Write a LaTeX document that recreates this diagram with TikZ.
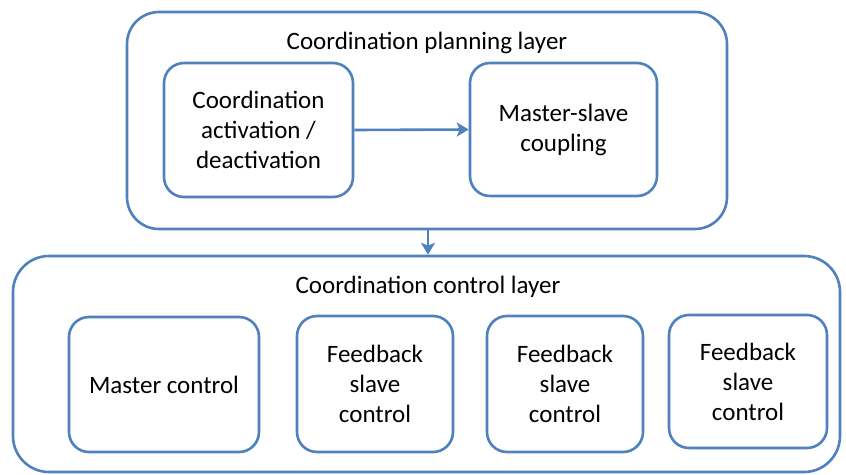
\documentclass[tikz,border=0pt]{standalone}
\usepackage{fontspec}
\setmainfont{Carlito}
\usetikzlibrary{arrows.meta}
\definecolor{boxblue}{HTML}{4F81BD}
\begin{document}
\begin{tikzpicture}[x=1pt,y=-1pt,
  box/.style={draw=boxblue, line width=2.6pt, rounded corners=#1, fill=white, inner sep=0pt},
  box/.default=20pt,
  lbl/.style={font=\fontsize{25}{30}\selectfont, align=center, inner sep=0pt},
  conn/.style={draw=boxblue, line width=2.6pt, -{Stealth[length=12pt,width=14pt,inset=3pt]}}]
\useasboundingbox (0,0) rectangle (846,474);
% outer layers
\node[box=32pt, minimum width=600pt, minimum height=217pt] (plan) at (427,120.5) {};
\node[box=36pt, minimum width=827pt, minimum height=216pt] (ctrl) at (426.5,364) {};
\node[lbl] (plant) at (427,43) {Coordination planning layer};
\node[lbl] (ctrlt) at (428,287) {Coordination control layer};
% planning layer boxes
\node[box, minimum width=189pt, minimum height=134pt] (act) at (258.5,130) {};
\node[lbl] at (act) {Coordination\\activation /\\deactivation};
\node[box, minimum width=187pt, minimum height=133pt] (ms) at (563.5,129.5) {};
\node[lbl] at (ms) {Master-slave\\coupling};
% control layer boxes
\node[box, minimum width=190pt, minimum height=135pt] (mc) at (164,384.5) {};
\node[lbl] at (mc) {Master control};
\node[box, minimum width=156pt, minimum height=136pt] (f1) at (375,384) {};
\node[lbl] at (f1) {Feedback\\slave\\control};
\node[box, minimum width=156pt, minimum height=136pt] (f2) at (565,384) {};
\node[lbl] at (f2) {Feedback\\slave\\control};
\node[box, minimum width=158pt, minimum height=133pt] (f3) at (748,381.5) {};
\node[lbl] at (f3) {Feedback\\slave\\control};
% connectors
\draw[conn] (act.east) -- (ms.west);
\draw[conn] (plan.south -| 428,0) -- (ctrl.north -| 428,0);
\end{tikzpicture}
\end{document}
